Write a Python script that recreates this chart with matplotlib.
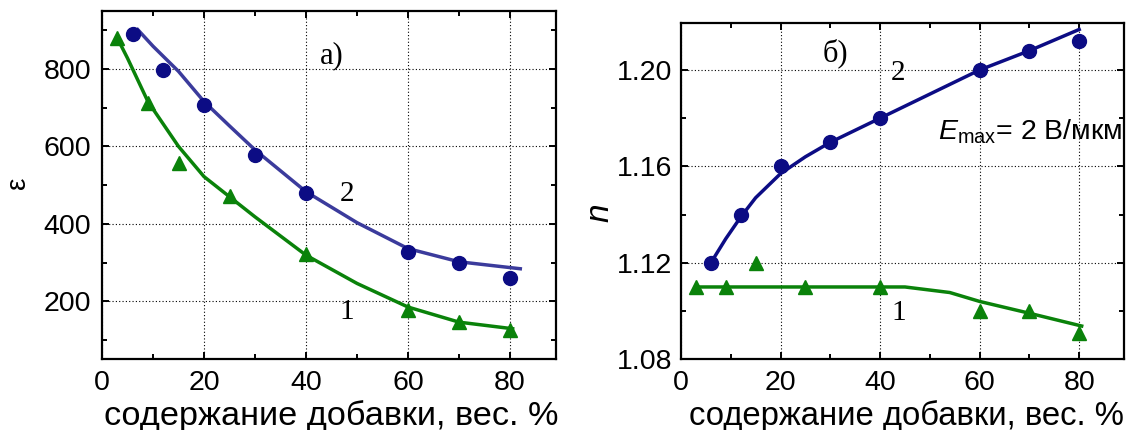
import matplotlib
matplotlib.use('Agg')
import matplotlib.pyplot as plt
from matplotlib.ticker import MultipleLocator, FormatStrFormatter

plt.rcParams['font.family'] = ['Liberation Sans', 'DejaVu Sans']
plt.rcParams['mathtext.fontset'] = 'custom'
plt.rcParams['mathtext.rm'] = 'Liberation Sans'
plt.rcParams['mathtext.it'] = 'Liberation Sans:italic'

# left panel: permittivity vs additive content
x_eps_2 = [6, 12, 20, 30, 40, 60, 70, 80]
eps_2 = [891, 798, 708, 578, 481, 328, 299, 260]
x_eps_1 = [3, 9, 15, 25, 40, 60, 70, 80]
eps_1 = [880, 712, 557, 472, 322, 177, 146, 125]

fit_x_eps_2 = [7, 10, 15, 20, 25, 30, 40, 50, 60, 70, 82]
fit_eps_2 = [902, 859, 794, 716, 653, 591, 483, 403, 336, 302, 284]
fit_x_eps_1 = [3, 5, 9, 15, 20, 25, 30, 40, 50, 60, 70, 80.5]
fit_eps_1 = [880, 828, 716, 600, 522, 470, 418, 319, 246, 185, 146, 129]

# right panel: tunability n vs additive content
x_n_2 = [6, 12, 20, 30, 40, 60, 70, 80]
n_2 = [1.120, 1.140, 1.160, 1.170, 1.180, 1.200, 1.208, 1.212]
x_n_1 = [3, 9, 15, 25, 40, 60, 70, 80]
n_1 = [1.110, 1.110, 1.120, 1.110, 1.110, 1.100, 1.100, 1.091]

fit_x_n_2 = [6, 9, 12, 15, 20, 25, 30, 40, 50, 60, 70, 80]
fit_n_2 = [1.120, 1.130, 1.139, 1.147, 1.157, 1.164, 1.170, 1.180, 1.190, 1.200, 1.208, 1.2168]
fit_x_n_1 = [3, 45, 54, 60, 70, 80.5]
fit_n_1 = [1.110, 1.110, 1.1077, 1.1040, 1.0991, 1.0938]

xlabel = 'содержание добавки, вес. %'
navy = '#0c0c84'
slate = '#3b3b9c'
green = '#0a820a'
serif = 'Liberation Serif'


def style_axes(ax):
    for sp in ax.spines.values():
        sp.set_linewidth(1.6)
    ax.tick_params(which='both', direction='in', top=True, right=True,
                   width=1.4, labelsize=20.5)
    ax.tick_params(which='major', length=5)
    ax.tick_params(which='minor', length=3.5)
    ax.tick_params(axis='x', pad=8)
    ax.grid(True, which='major', linestyle=(0, (1, 2)), color='black',
            linewidth=0.8)
    ax.set_axisbelow(True)
    ax.xaxis.set_major_locator(MultipleLocator(20))
    ax.xaxis.set_minor_locator(MultipleLocator(10))
    ax.set_xlim(0, 89)


fig = plt.figure(figsize=(11.31, 4.30), dpi=100)

ax1 = fig.add_axes([0.0902, 0.1644, 0.4014, 0.810])
style_axes(ax1)
ax1.plot(fit_x_eps_2, fit_eps_2, color=slate, lw=2.5, zorder=3)
ax1.plot(fit_x_eps_1, fit_eps_1, color=green, lw=2.5, zorder=3)
ax1.plot(x_eps_2, eps_2, 'o', color=navy, ms=10, zorder=4)
ax1.plot(x_eps_1, eps_1, '^', color=green, ms=10.5, zorder=4)
ax1.set_ylim(50, 950)
ax1.yaxis.set_major_locator(MultipleLocator(200))
ax1.yaxis.set_minor_locator(MultipleLocator(100))
ax1.yaxis.set_major_formatter(FormatStrFormatter('%d'))
ax1.tick_params(axis='y', pad=8)
ax1.set_ylabel('ε', fontsize=20)
ax1.yaxis.set_label_coords(-0.156, 0.506)
ax1.set_xlabel(xlabel, fontsize=24.7, va='baseline')
ax1.xaxis.set_label_coords(0.5055, -0.1886)
ax1.text(45, 835, 'а)', family=serif, fontsize=22, ha='center', va='center')
ax1.text(48, 478, '2', family=serif, fontsize=21, ha='center', va='center')
ax1.text(48, 172, '1', family=serif, fontsize=21, ha='center', va='center')

ax2 = fig.add_axes([0.6021, 0.1644, 0.3917, 0.7828])
style_axes(ax2)
ax2.plot(fit_x_n_2, fit_n_2, color=navy, lw=2.5, zorder=3)
ax2.plot(fit_x_n_1, fit_n_1, color=green, lw=2.5, zorder=3)
ax2.plot(x_n_2, n_2, 'o', color=navy, ms=10, zorder=4)
ax2.plot(x_n_1, n_1, '^', color=green, ms=10.5, zorder=4)
ax2.set_ylim(1.08, 1.2196)
ax2.yaxis.set_major_locator(MultipleLocator(0.04))
ax2.yaxis.set_minor_locator(MultipleLocator(0.02))
ax2.yaxis.set_major_formatter(FormatStrFormatter('%.2f'))
ax2.tick_params(axis='y', pad=6.5)
ax2.set_ylabel('n', fontsize=24, style='italic')
ax2.yaxis.set_label_coords(-0.148, 0.435)
ax2.set_xlabel(xlabel, fontsize=23.7, va='baseline')
ax2.xaxis.set_label_coords(0.508, -0.195)
ax2.text(31, 1.2069, 'б)', family=serif, fontsize=22, ha='center', va='center')
ax2.text(43.7, 1.1986, '2', family=serif, fontsize=21, ha='center', va='center')
ax2.text(43.7, 1.099, '1', family=serif, fontsize=21, ha='center', va='center')
ax2.text(51.6, 1.1710, r'$E_{\mathrm{max}}$= 2 В/мкм', fontsize=20.5,
         ha='left', va='baseline')

fig.savefig('out.png', dpi=100)
